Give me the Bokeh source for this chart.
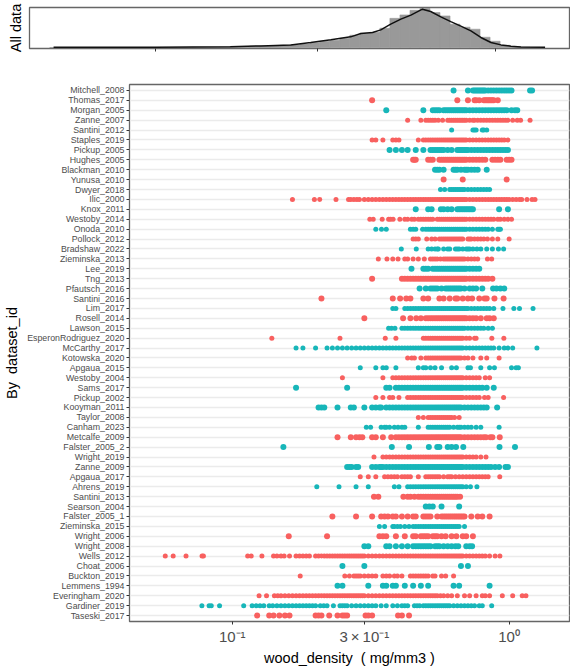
from bokeh.plotting import figure
from bokeh.layouts import column
from bokeh.models import ColumnDataSource, FactorRange, FixedTicker, Range1d
from bokeh.embed import file_html
from bokeh.resources import INLINE

Mitchell_2008 = [.63,.71,.74,.75,.76,.77,.78,.79,.80,.81,.82,.84,.86,.88,.90,.92,.94,.96,.98,1.00,1.02,1.19,1.21]
Thomas_2017 = [.32,.65,.71,.75,.76,.78,.81,.82,.83,.84,.85,.86,.87,.88,.91]
Morgan_2005 = [.36,.49,.53,.54,.55,.56,.58,.59,.60,.61,.62,.63,.64,.65,.66,.67,.68,.69,.70,.72,.74,.76,.78,.80,.82,.84,.86,.88,.90,.92,.94,.96,.98,1.02,1.05,1.07]
Zanne_2007 = [.43,.48,.50,.51,.52,.53,.54,.555,.575,.60,.61,.62,.63,.64,.65,.66,.67,.68,.69,.70,.72,.74,.75,.77,.79,.81,.83,.85,.87,.89,.91,.93,.95,.97,.99,1.03,1.07,1.10,1.19]
Santini_2012 = [.62,.74,.75,.76,.80,.81,.83]
Staples_2019 = [.32,.33,.35,.38,.39,.40,.47,.49,.50,.51,.52,.53,.54,.55,.56,.57,.58,.59,.60,.61,.62,.63,.64,.65,.66,.67,.68,.69,.70,.72,.74,.76,.78,.80,.82,.84,.86,.88,.90,.92,.94,.96,.99]
Pickup_2005 = [.37,.39,.41,.43,.46,.49,.52,.53,.54,.55,.56,.57,.58,.60,.62,.65,.66,.67,.68,.69,.70,.71,.73,.75,.77,.79,.81,.83,.85,.87,.89,.91,.93,.95,.97,.99]
Hughes_2005 = [.45,.455,.46,.51,.52,.53,.56,.57,.58,.59,.60,.61,.62,.63,.64,.65,.66,.67,.68,.69,.70,.72,.74,.76,.78,.80,.82,.87,.89,.91,.93,.98,1.00,1.02]
Blackman_2010 = [.54,.55,.56,.58,.63,.64,.65,.67,.69,.70,.71,.73,.75,.77,.83]
Yunusa_2010 = [.58,.68,.98]
Dwyer_2018 = [.565,.585,.61,.62,.63,.64,.65,.66,.67,.68,.69,.71,.73,.75,.77,.79,.81,.83,.85]
Ilic_2000 = [.165,.198,.207,.237,.263,.268,.275,.282,.288,.30,.31,.32,.33,.34,.35,.36,.37,.38,.39,.40,.41,.42,.43,.44,.45,.46,.47,.48,.49,.50,.51,.52,.53,.54,.55,.56,.57,.58,.59,.60,.61,.62,.63,.64,.65,.66,.67,.68,.69,.70,.72,.74,.76,.78,.80,.82,.84,.86,.88,.90,.92,.94,.96,.98,1.00,1.03,1.06,1.09,1.11,1.16,1.21,1.24]
Knox_2011 = [.46,.51,.525,.567,.58,.60,.62,.65,.66,.67,.68,.69,.70,.71,.72,.73,.74,.92,.99]
Westoby_2014 = [.314,.323,.348,.367,.373,.381,.403,.42,.43,.445,.455,.47,.48,.49,.50,.51,.52,.53,.55,.56,.57,.58,.59,.60,.61,.62,.63,.64,.65,.66,.67,.68,.69,.70,.72,.74,.76,.78,.80,.82,.84,.86,.88,.91,.93,.96,.99,1.02]
Onoda_2010 = [.33,.346,.36,.44,.45,.46,.487,.50,.51,.52,.53,.54,.55,.56,.57,.58,.59,.60,.61,.62,.63,.64,.65,.66,.67,.68,.69,.70,.72,.74,.76,.78,.80,.82,.84,.87,.91,.92,.93]
Pollock_2012 = [.45,.46,.47,.504,.525,.54,.56,.57,.58,.59,.60,.61,.62,.63,.64,.65,.66,.67,.68,.71,.72,.73,.75,.77,.79,.81,.835,.87,.91,1.00]
Bradshaw_2022 = [.408,.462,.51,.525,.54,.55,.555,.58,.60,.61,.64,.65,.66,.68,.70,.71,.72,.74,.765,.79,.83,.87,.915,.955]
Zieminska_2013 = [.337,.362,.38,.397,.42,.43,.45,.47,.494,.52,.53,.54,.55,.565,.58,.59,.60,.61,.62,.63,.64,.65,.66,.67,.68,.69,.71,.73,.75,.77,.835,.865]
Lee_2019 = [.444,.49,.50,.51,.53,.54,.55,.56,.57,.58,.59,.60,.61,.62,.63,.64,.65,.66,.67,.68,.69,.70,.72,.74,.76,.78]
Tng_2013 = [.32,.41,.42,.43,.44,.45,.46,.47,.48,.49,.50,.51,.52,.53,.54,.55,.56,.57,.58,.59,.60,.61,.62,.63,.64,.65,.66,.67,.68,.69,.70,.72,.74,.76,.78,.80,.82,.84,.87]
Pfautsch_2016 = [.475,.50,.52,.53,.54,.55,.57,.59,.60,.61,.62,.63,.64,.65,.66,.67,.69,.72,.74,.76,.80,.875,.90,.93,.96]
Santini_2016 = [.21,.38,.404,.425,.44,.49,.51,.56,.58,.61,.64,.65,.68,.71,.735,.78,.815,.83,.885,.955]
Lim_2017 = [.38,.39,.42,.43,.44,.45,.46,.47,.48,.49,.50,.51,.52,.53,.54,.55,.56,.57,.58,.59,.60,.61,.62,.63,.64,.65,.66,.67,.68,.69,.70,.71,.73,.75,.77,.79,.81,.83,.85,.88,.95,1.04,1.09,1.22]
Rosell_2014 = [.30,.414,.44,.462,.48,.50,.51,.52,.53,.54,.55,.56,.57,.58,.59,.60,.61,.62,.63,.64,.65,.66,.67,.68,.69,.70,.72,.74,.76,.79,.83,.85,.88]
Lawson_2015 = [.367,.376,.387,.41,.42,.43,.44,.45,.46,.47,.48,.49,.50,.51,.52,.53,.54,.55,.56,.57,.58,.59,.60,.61,.62,.63,.64,.65,.66,.67,.68,.69,.71,.73,.75,.77,.79,.81,.84,.87]
EsperonRodriguez_2020 = [.139,.245,.357,.39,.49,.50,.51,.52,.53,.54,.55,.56,.57,.58,.59,.60,.61,.62,.63,.64,.65,.66,.67,.68,.70,.72,.75,.76,.866,.957]
McCarthy_2017 = [.17,.18,.20,.22,.23,.24,.25,.26,.27,.28,.29,.30,.31,.32,.33,.34,.35,.36,.37,.38,.39,.40,.41,.42,.43,.44,.45,.46,.47,.48,.49,.50,.51,.52,.53,.54,.55,.56,.57,.58,.59,.60,.61,.62,.63,.64,.65,.66,.67,.68,.70,.72,.74,.76,.78,.80,.82,.84,.86,.88,.92,.96,.99,1.03,1.26]
Kotowska_2020 = [.43,.445,.455,.48,.50,.51,.52,.53,.54,.55,.56,.57,.58,.59,.60,.61,.62,.63,.64,.65,.66,.67,.69,.71,.74,.79,.83,.92]
Apgaua_2015 = [.29,.33,.35,.36,.39,.47,.49,.50,.52,.54,.57,.62,.645,.71,.725,.79,.85,.885,1.02,1.06,1.08]
Westoby_2004 = [.25,.35,.38,.39,.40,.41,.42,.43,.44,.45,.46,.47,.48,.49,.50,.51,.52,.53,.54,.55,.56,.57,.58,.59,.60,.61,.62,.63,.64,.65,.66,.67,.68,.70,.72,.74,.76,.78,.82,.85]
Sams_2017 = [.17,.26,.36,.37,.39,.40,.41,.42,.43,.44,.45,.46,.47,.48,.49,.50,.51,.52,.53,.54,.55,.56,.57,.58,.59,.60,.61,.62,.63,.64,.65,.66,.67,.68,.70,.72,.74,.76,.78,.80,.83,.88]
Pickup_2002 = [.33,.35,.37,.38,.40,.43,.44,.45,.46,.47,.48,.49,.50,.51,.52,.53,.54,.55,.56,.57,.58,.59,.60,.61,.62,.63,.64,.65,.66,.67,.68,.70,.72,.74,.76,.78,.815,.84,.955]
Kooyman_2011 = [.205,.21,.215,.24,.268,.275,.30,.32,.33,.34,.345,.36,.37,.38,.39,.40,.41,.42,.43,.44,.45,.46,.47,.48,.49,.50,.51,.52,.53,.54,.55,.56,.57,.58,.59,.60,.61,.62,.63,.64,.65,.66,.67,.69,.71,.73,.75,.77,.79,.81,.83,.905]
Taylor_2008 = [.47,.49,.51,.52,.53,.54,.55,.56,.57,.58,.59,.60,.61,.62,.635,.66]
Canham_2023 = [.305,.316,.345,.355,.36,.37,.385,.397,.41,.42,.47,.51,.52,.53,.54,.55,.56,.57,.58,.59,.60,.61,.63,.65,.66,.67,.69,.71,.73,.76,.79,.92]
Metcalfe_2009 = [.24,.268,.28,.288,.295,.32,.33,.35,.375,.39,.40,.41,.42,.43,.44,.45,.46,.47,.48,.49,.50,.51,.52,.53,.54,.55,.56,.57,.58,.59,.60,.61,.62,.63,.64,.65,.66,.67,.69,.71,.73,.75,.77,.79,.81,.825,.855,.87,.925]
Falster_2005_2 = [.153,.377,.435,.513,.55,.56,.60,.62,.643,.683,.923,1.05]
Wright_2019 = [.325,.35,.36,.37,.38,.39,.40,.41,.42,.43,.44,.45,.46,.47,.48,.49,.50,.51,.52,.53,.54,.55,.56,.57,.58,.59,.60,.61,.62,.63,.64,.65,.66,.67,.68,.70,.72,.74,.76,.79,.825]
Zanne_2009 = [.26,.265,.27,.28,.285,.32,.33,.34,.345,.35,.36,.37,.38,.39,.40,.41,.42,.43,.44,.45,.46,.47,.48,.49,.50,.51,.52,.53,.54,.55,.56,.57,.58,.59,.60,.61,.62,.63,.64,.65,.66,.67,.68,.70,.72,.74,.76,.78,.80,.82,.84,.86,.89,.92,.97,.99]
Apgaua_2017 = [.29,.31,.33,.355,.365,.375,.385,.395,.41,.42,.43,.44,.47,.50,.51,.52,.53,.54,.55,.56,.58,.60,.61,.62,.64,.66,.68,.70,.72,.74,.76,.78,.80,.82,.84,.925]
Ahrens_2019 = [.202,.243,.28,.31,.385,.40,.43,.44,.45,.46,.47,.48,.49,.50,.51,.52,.53,.54,.55,.56,.57,.58,.59,.60,.61,.62,.63,.64,.65,.66,.67,.68,.70,.725,.765]
Santini_2013 = [.325,.337,.415,.43,.44,.455,.47,.48,.49,.50,.51,.52,.53,.54,.55,.56,.57,.58,.59,.60,.61,.62,.63,.64,.65,.665]
Searson_2004 = [.50,.515,.53,.57,.66]
Falster_2005_1 = [.23,.28,.32,.345,.355,.365,.38,.39,.41,.43,.45,.46,.49,.50,.51,.52,.55,.57,.58,.59,.60,.61,.62,.63,.64,.65,.66,.67,.68,.69,.73,.77,.80,.85]
Zieminska_2015 = [.34,.355,.38,.385,.395,.405,.42,.435,.45,.46,.47,.48,.49,.50,.51,.52,.53,.54,.55,.56,.57,.58,.59,.60,.61,.62,.63,.64,.65,.66,.69]
Wright_2006 = [.16,.22,.34,.35,.36,.39,.42,.45,.46,.48,.49,.50,.51,.53,.54,.55,.57,.59,.62,.645,.68,.70,.74]
Wright_2008 = [.30,.31,.36,.37,.39,.41,.43,.45,.46,.47,.48,.49,.50,.51,.52,.54,.55,.56,.58,.60,.62,.64,.655,.70,.72,.735]
Wells_2012 = [.0573,.0612,.0681,.0778,.0787,.1137,.1171,.128,.141,.145,.15,.154,.161,.17,.175,.18,.185,.19,.20,.205,.21,.215,.22,.225,.23,.235,.24,.245,.25,.255,.26,.265,.27,.275,.28,.285,.29,.295,.30,.31,.32,.33,.34,.35,.36,.37,.38,.39,.40,.41,.42,.43,.44,.45,.46,.47,.48,.49,.50,.51,.52,.53,.54,.55,.56,.57,.58,.59,.60,.61,.62,.63,.64,.65,.66,.67,.68,.70,.72,.74,.76,.78,.80,.82,.85,.89,.926]
Choat_2006 = [.25,.30,.67,.71]
Buckton_2019 = [.176,.255,.265,.275,.28,.285,.29,.30,.31,.32,.33,.35,.36,.37,.385,.395,.41,.44,.45,.46,.47,.48,.49,.50,.51,.53,.54,.57,.59,.63]
Lemmens_1994 = [.24,.25,.31,.35,.36,.38,.39,.42,.45,.48,.51,.63,.66,.85]
Everingham_2020 = [.125,.133,.142,.146,.15,.155,.16,.165,.17,.175,.18,.185,.19,.195,.20,.205,.21,.215,.22,.225,.23,.235,.24,.245,.25,.255,.26,.265,.27,.275,.28,.285,.29,.295,.30,.31,.32,.33,.34,.35,.36,.37,.38,.39,.40,.41,.42,.43,.44,.45,.46,.47,.48,.49,.50,.51,.52,.53,.54,.55,.565,.58,.60,.62,.65,.69,.72,.76,.80,.82,.85,.945,1.03,1.115,1.15]
Gardiner_2019 = [.0777,.0825,.084,.09,.11,.118,.122,.126,.13,.136,.14,.145,.15,.155,.16,.165,.17,.175,.18,.185,.19,.195,.20,.208,.214,.22,.232,.245,.25,.255,.26,.27,.28,.29,.30,.31,.32,.33,.345,.36,.38,.395,.41,.42,.43,.455,.465,.475,.49,.50,.51,.52,.53,.54,.55,.56,.57,.58,.59,.60,.61,.63,.65,.67,.69,.71,.73,.75,.78,.80,.865]
Taseski_2017 = [.123,.136,.141,.148,.155,.161,.20,.205,.21,.224,.24,.25,.255,.26,.303,.31,.32,.397,.41,.435]

dataset_names = ["Mitchell_2008","Thomas_2017","Morgan_2005","Zanne_2007","Santini_2012","Staples_2019","Pickup_2005","Hughes_2005","Blackman_2010","Yunusa_2010","Dwyer_2018","Ilic_2000","Knox_2011","Westoby_2014","Onoda_2010","Pollock_2012","Bradshaw_2022","Zieminska_2013","Lee_2019","Tng_2013","Pfautsch_2016","Santini_2016","Lim_2017","Rosell_2014","Lawson_2015","EsperonRodriguez_2020","McCarthy_2017","Kotowska_2020","Apgaua_2015","Westoby_2004","Sams_2017","Pickup_2002","Kooyman_2011","Taylor_2008","Canham_2023","Metcalfe_2009","Falster_2005_2","Wright_2019","Zanne_2009","Apgaua_2017","Ahrens_2019","Santini_2013","Searson_2004","Falster_2005_1","Zieminska_2015","Wright_2006","Wright_2008","Wells_2012","Choat_2006","Buckton_2019","Lemmens_1994","Everingham_2020","Gardiner_2019","Taseski_2017"]
small_point_sets = {"Zanne_2007","Santini_2012","Staples_2019","Dwyer_2018","Ilic_2000","Westoby_2014","Onoda_2010","Pollock_2012","Bradshaw_2022","Zieminska_2013","Lim_2017","Lawson_2015","EsperonRodriguez_2020","McCarthy_2017","Kotowska_2020","Apgaua_2015","Westoby_2004","Pickup_2002","Taylor_2008","Canham_2023","Wright_2019","Apgaua_2017","Ahrens_2019","Zieminska_2015","Wells_2012","Buckton_2019","Everingham_2020","Gardiner_2019"}

hist_edges = [.0488,.0522,.0559,.0598,.0639,.0684,.0732,.0783,.0839,.0897,.0961,.1028,.1100,.1178,.1260,.1349,.1443,.1545,.1653,.1769,.1893,.2026,.2168,.2320,.2483,.2657,.2844,.3043,.3257,.3486,.3730,.3992,.4272,.4572,.4893,.5237,.5605,.5998,.6419,.6870,.7353,.7869,.8421,.9012,.9645,1.0322,1.1046,1.1822,1.2652,1.3538]
hist_heights = [.005,.005,.005,.005,.005,.005,.005,.005,.005,.005,.006,.007,.008,.009,.011,.013,.016,.02,.025,.03,.04,.045,.05,.06,.07,.09,.125,.16,.185,.235,.31,.36,.385,.485,.73,.815,.93,.98,.875,.79,.585,.51,.46,.26,.16,.06,.025,.012,.008]
density_x = [.0501,.1,.166,.204,.25,.286,.328,.375,.402,.435,.46,.492,.527,.564,.61,.645,.691,.739,.791,.847,.906,.97,1.038,1.111,1.189,1.40]
density_y = [.012,.012,.025,.045,.07,.13,.195,.27,.353,.378,.443,.585,.71,.81,.958,.90,.766,.65,.535,.418,.254,.13,.07,.037,.02,.012]

x_ticks = [0.1, 0.3, 1]
x_tick_labels = {0.1: "10⁻¹", 0.3: "3\u2009×\u200910⁻¹", 1: "10⁰"}
x_limits = (0.04256, 1.652)
FONT = "Liberation Sans"
TEAL = "#17B6B9"
RED = "#F8605F"
BORDER = "#666666"
TICK_TEXT = "#4D4D4D"

# ---- top panel -------------------------------------------------------------
top = figure(width=570, height=83, x_axis_type="log", x_range=Range1d(*x_limits),
             y_range=Range1d(-0.02, 1.0), toolbar_location=None, output_backend="svg",
             frame_align=False,
             min_border_left=29, min_border_right=1, min_border_top=7, min_border_bottom=35)
top.quad(left=hist_edges[:-1], right=hist_edges[1:], bottom=0, top=hist_heights,
         fill_color="#999999", line_color="#999999", line_width=0.6)
top.line(density_x, density_y, line_color="#111111", line_width=1.5)
top.grid.visible = False
top.outline_line_color = BORDER
top.outline_line_width = 1.3
top.xaxis.ticker = FixedTicker(ticks=x_ticks)
top.xaxis.major_label_text_color = None
top.xaxis.axis_line_color = None
top.xaxis.minor_tick_line_color = None
top.xaxis.major_tick_line_color = "#333333"
top.xaxis.major_tick_in = 0
top.xaxis.major_tick_out = 3
top.yaxis.ticker = FixedTicker(ticks=[])
top.yaxis.major_label_text_color = None
top.yaxis.axis_line_color = None
top.yaxis.minor_tick_line_color = None
top.yaxis.major_tick_line_color = None
top.yaxis.major_tick_out = 0
top.yaxis.major_label_standoff = 0
top.yaxis.axis_label = "All data"
top.yaxis.axis_label_text_font = FONT
top.yaxis.axis_label_text_font_size = "14.5px"
top.yaxis.axis_label_text_font_style = "normal"
top.yaxis.axis_label_text_color = "#000000"
top.yaxis.axis_label_standoff = 6

# ---- main panel ------------------------------------------------------------
xs, ys, colors, sizes = [], [], [], []
series_by_name = globals()
for i, name in enumerate(dataset_names):
    for v in series_by_name[name]:
        xs.append(v)
        ys.append(name)
        colors.append(TEAL if i % 2 == 0 else RED)
        sizes.append(5.0 if name in small_point_sets else 6.0)
source = ColumnDataSource(dict(x=xs, y=ys, color=colors, size=sizes))

factors = FactorRange(factors=list(reversed(dataset_names)), range_padding=0.1,
                      range_padding_units="absolute")
main = figure(width=570, height=585, x_axis_type="log", x_range=Range1d(*x_limits),
              y_range=factors, toolbar_location=None, output_backend="svg",
              frame_align=False,
              min_border_left=129, min_border_right=1, min_border_top=1, min_border_bottom=46)
main.scatter("x", "y", source=source, size="size", fill_color="color", line_color=None)
main.xgrid.visible = False
main.ygrid.grid_line_color = "#EBEBEB"
main.ygrid.grid_line_width = 1.4
main.outline_line_color = BORDER
main.outline_line_width = 1.3
main.xaxis.ticker = FixedTicker(ticks=x_ticks)
main.xaxis.major_label_overrides = x_tick_labels
main.xaxis.major_label_text_font = FONT
main.xaxis.major_label_text_font_size = "15px"
main.xaxis.major_label_text_color = TICK_TEXT
main.xaxis.major_label_standoff = 3
main.xaxis.axis_line_color = None
main.xaxis.minor_tick_line_color = None
main.xaxis.major_tick_line_color = "#333333"
main.xaxis.major_tick_in = 0
main.xaxis.major_tick_out = 3
main.xaxis.axis_label = "wood_density\u00a0\u00a0( mg/mm3 )"
main.xaxis.axis_label_text_font = FONT
main.xaxis.axis_label_text_font_size = "14.5px"
main.xaxis.axis_label_text_font_style = "normal"
main.xaxis.axis_label_text_color = "#000000"
main.xaxis.axis_label_standoff = 2
main.yaxis.major_label_text_font = FONT
main.yaxis.major_label_text_font_size = "8.8px"
main.yaxis.major_label_text_color = TICK_TEXT
main.yaxis.major_label_standoff = 2
main.yaxis.axis_line_color = None
main.yaxis.major_tick_line_color = "#333333"
main.yaxis.major_tick_in = 0
main.yaxis.major_tick_out = 3
main.yaxis.axis_label = "By\u00a0\u00a0dataset_id"
main.yaxis.axis_label_text_font = FONT
main.yaxis.axis_label_text_font_size = "14.5px"
main.yaxis.axis_label_text_font_style = "normal"
main.yaxis.axis_label_text_color = "#000000"
main.yaxis.axis_label_standoff = 4

page = column(top, main, spacing=0)
open("out.html", "w").write(file_html(page, INLINE))
